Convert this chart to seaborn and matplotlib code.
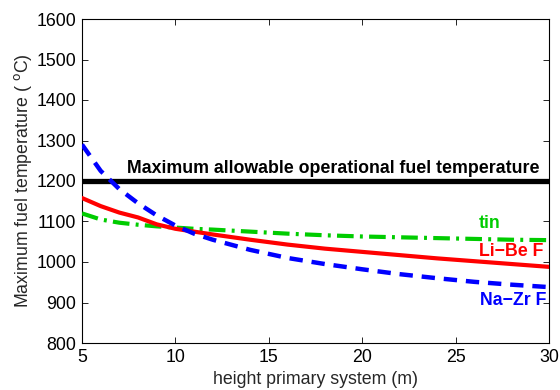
import matplotlib
matplotlib.use("Agg")
import matplotlib.pyplot as plt
import seaborn as sns
import numpy as np
import pandas as pd

sns.set_style("ticks")
plt.rcParams['font.family'] = ['Liberation Sans', 'DejaVu Sans']

height_m = [5, 6, 7, 8, 9, 10, 11, 12, 14, 16, 18, 20, 22, 24, 26, 28, 30]
na_zr_f = [1290, 1225, 1180, 1145, 1115, 1090, 1070, 1055, 1030, 1010, 995, 982, 970, 960, 951, 944, 938]
li_be_f = [1158, 1138, 1122, 1110, 1093, 1082, 1075, 1068, 1055, 1043, 1033, 1025, 1017, 1009, 1002, 995, 988]
tin = [1120, 1105, 1097, 1092, 1088, 1085, 1082, 1080, 1075, 1070, 1066, 1063, 1061, 1059, 1057, 1055, 1054]
max_allowable = 1200

x_ticks = [5, 10, 15, 20, 25, 30]
y_ticks = [800, 900, 1000, 1100, 1200, 1300, 1400, 1500, 1600]

FS = 12.8
GREEN = (0.0, 0.8, 0.0)
RED = (1.0, 0.0, 0.0)
BLUE = (0.0, 0.0, 1.0)

fig = plt.figure(figsize=(5.6, 3.9), dpi=100)
ax = fig.add_axes([82/560, 1-343/390, (549-82)/560, (343-19)/390])

df = pd.DataFrame({"h": height_m, "na": na_zr_f, "li": li_be_f, "tin": tin})

ax.axhline(max_allowable, color="black", lw=3.8, zorder=3)
sns.lineplot(data=df, x="h", y="tin", ax=ax, color=GREEN, lw=3,
             linestyle=(0, (4, 1.5, 0.7, 1.5)), zorder=4)
sns.lineplot(data=df, x="h", y="li", ax=ax, color=RED, lw=3, zorder=5)
sns.lineplot(data=df, x="h", y="na", ax=ax, color=BLUE, lw=3.2,
             linestyle=(0, (3, 2)), zorder=6)

ax.text(18.44, 1230, "Maximum allowable operational fuel temperature", ha="center",
        va="center", fontsize=FS, fontweight="bold", color="black")
ax.text(26.84, 1096, "tin", ha="center", va="center", fontsize=FS,
        fontweight="bold", color=GREEN)
ax.text(29.7, 1025, "Li\u2212Be F", ha="right", va="center", fontsize=FS,
        fontweight="bold", color=RED)
ax.text(29.85, 906, "Na\u2212Zr F", ha="right", va="center", fontsize=FS,
        fontweight="bold", color=BLUE)

ax.set_xlim(5, 30)
ax.set_ylim(800, 1600)
ax.set_xticks(x_ticks)
ax.set_yticks(y_ticks)
ax.tick_params(direction="in", top=True, right=True, labelsize=FS, length=4,
               width=0.6, colors="black", pad=4)
for s in ax.spines.values():
    s.set_visible(True)
    s.set_linewidth(0.8)
    s.set_color("black")
ax.set_xlabel("height primary system (m)", fontsize=FS, labelpad=4)
ax.set_ylabel(r"Maximum fuel temperature ( $^{\mathrm{o}}$C)", fontsize=FS, labelpad=2)

fig.savefig("out.png", dpi=100)
